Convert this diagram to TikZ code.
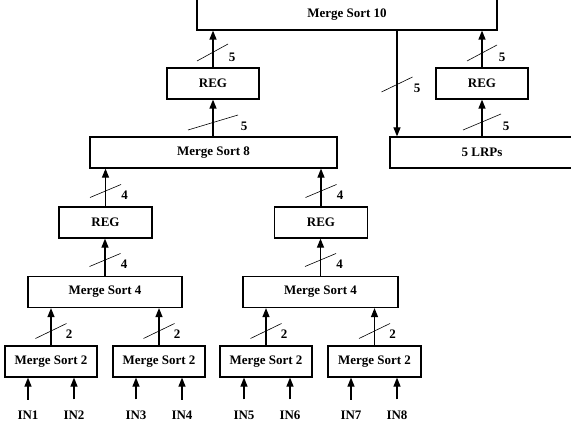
\documentclass[tikz,border=0pt]{standalone}
\usepackage{fontspec}
\setmainfont{Liberation Serif}
\usetikzlibrary{arrows.meta}
\begin{document}
\begin{tikzpicture}[x=1pt,y=-1pt,
  lbl/.style={font=\fontsize{13}{15}\selectfont\bfseries},
  box/.style={draw,line width=1.2pt,minimum height=31pt,inner sep=0pt,lbl},
  arr/.style={line width=1.2pt,-{Triangle[length=9pt,width=7pt]}},
  slashline/.style={line width=0.6pt},
  wlabel/.style={lbl,inner sep=0pt},
  inlabel/.style={lbl,inner sep=0pt},
  % bus-width mark: half width, half height, label offset x, label offset y, label
  pics/bus/.style n args={5}{code={
    \draw[slashline] (-#1,#2) -- (#1,-#2);
    \node[wlabel] at (#3,#4) {#5};
  }}
]
\useasboundingbox (0,0) rectangle (571,428);
\clip (0,0) rectangle (571,428);

% blocks
\node[box,minimum width=300pt] (ms10) at (347,14.5) {Merge Sort 10};
\node[box,minimum width=92pt]  (regA) at (213,83.5) {REG};
\node[box,minimum width=92pt]  (regB) at (482,83.5) {REG};
\node[box,minimum width=247pt] (ms8)  at (213.5,152.5) {Merge Sort 8};
\node[box,minimum width=184pt] (lrp)  at (482,152.5) {5 LRPs};
\node[box,minimum width=93pt]  (regL) at (105.5,222.5) {REG};
\node[box,minimum width=93pt]  (regR) at (321,222.5) {REG};
\node[box,minimum width=154pt] (ms4L) at (105,292) {Merge Sort 4};
\node[box,minimum width=155pt] (ms4R) at (320.5,292) {Merge Sort 4};
\node[box,minimum width=92pt]  (ms2a) at (51,361.5) {Merge Sort 2};
\node[box,minimum width=92pt]  (ms2b) at (159,361.5) {Merge Sort 2};
\node[box,minimum width=92pt]  (ms2c) at (266,361.5) {Merge Sort 2};
\node[box,minimum width=93pt]  (ms2d) at (374.5,361.5) {Merge Sort 2};

% inputs
\foreach \n/\x in {1/28,2/74,3/136,4/182,5/244,6/290,7/351,8/397}{
  \node[inlabel] (in\n) at (\x,415) {IN\n};
}
\foreach \n/\b in {1/ms2a,2/ms2a,3/ms2b,4/ms2b,5/ms2c,6/ms2c,7/ms2d,8/ms2d}{
  \draw[arr,shorten <=11pt] (in\n) -- (in\n |- \b.south);
}

% first merge level
\foreach \b/\t in {ms2a/ms4L,ms2b/ms4L,ms2c/ms4R,ms2d/ms4R}{
  \draw[arr] (\b.north) -- (\b.north |- \t.south);
  \pic at (\b.north |- 0,331) {bus={15.5}{7.5}{18}{3}{2}};
}

% registers after the 4-input sorters
\foreach \a/\r in {ms4L/regL,ms4R/regR}{
  \draw[arr] (\a.north) -- (\a.north |- \r.south);
  \pic at (\a.north |- 0,260) {bus={15.5}{6.5}{19}{4.5}{4}};
  \draw[arr] (\r.north) -- (\r.north |- ms8.south);
  \pic at (\r.north |- 0,191) {bus={15.5}{6.5}{19}{4.5}{4}};
}

% top level
\draw[arr] (ms8.north -| regA.south) -- (regA.south);
\pic at (213,122.5) {bus={25}{7.5}{31}{3.5}{5}};
\draw[arr] (regA.north) -- (regA.north |- ms10.south);
\pic at (212.5,52.5) {bus={15.5}{8.5}{19.5}{4.5}{5}};

\coordinate (tap) at (397,0);
\draw[arr] (tap |- ms10.south) -- (tap |- lrp.north);
\pic at (397,84.5) {bus={15.5}{7.5}{20}{3.5}{5}};

\draw[arr] (lrp.north) -- (regB.south);
\pic at (482,122) {bus={19}{8}{24}{4}{5}};
\draw[arr] (regB.north) -- (regB.north |- ms10.south);
\pic at (482,53) {bus={15}{8}{20}{4}{5}};
\end{tikzpicture}
\end{document}
